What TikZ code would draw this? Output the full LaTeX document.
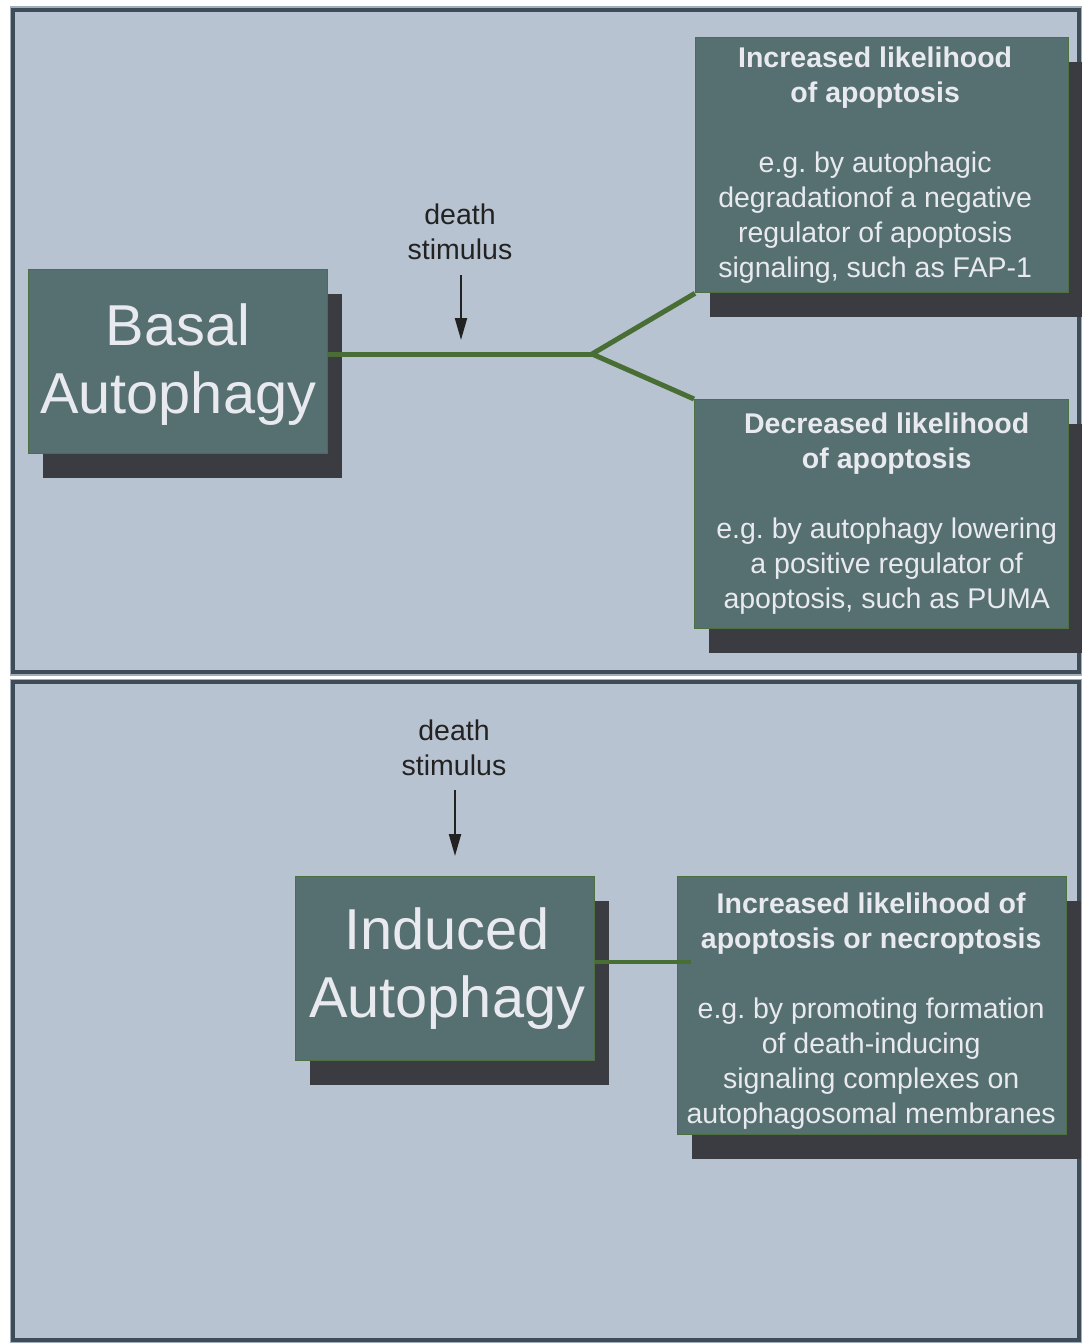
\documentclass[tikz,border=0pt]{standalone}
\usepackage{fontspec}
\setmainfont{Liberation Sans}
\usetikzlibrary{arrows.meta,shadows}
\definecolor{panelfill}{HTML}{B8C3D1}
\definecolor{panelline}{HTML}{3E4C58}
\definecolor{panelhalo}{HTML}{A3AEBC}
\definecolor{boxfill}{HTML}{566F70}
\definecolor{boxline}{HTML}{4D7040}
\definecolor{shadowc}{HTML}{3B3B42}
\definecolor{linkc}{HTML}{486E36}
\definecolor{boxtext}{HTML}{E8EAF0}
\definecolor{stimtext}{HTML}{222222}
\frenchspacing
\begin{document}
\begin{tikzpicture}[x=1pt,y=-1pt,
  panel/.style={fill=panelfill,draw=panelline,line width=3.5pt},
  halo/.style={draw=panelhalo,line width=7pt},
  box/.style={fill=boxfill,draw=boxline,line width=1.3pt,inner sep=0pt,anchor=north west,
    drop shadow={shadow xshift=14pt,shadow yshift=-24pt,opacity=1,fill=shadowc}},
  boxlabel/.style={align=center,text=boxtext,inner sep=0pt},
  small/.style={font=\fontsize{28.5}{35}\selectfont},
  big/.style={font=\fontsize{57.7}{68}\selectfont},
  link/.style={draw=linkc,line width=5pt},
  stim/.style={align=center,text=stimtext,font=\fontsize{28.5}{35}\selectfont},
  stimarrow/.style={draw=stimtext,line width=2.2pt,-{Triangle[length=22pt,width=12pt]}}]
\useasboundingbox[fill=white] (0,0) rectangle (1081,1343);
% panels
\draw[halo] (13,10) rectangle (1079,672);
\draw[halo] (13,682) rectangle (1079,1340);
\draw[panel] (13,10) rectangle (1079,672);
\draw[panel] (13,682) rectangle (1079,1340);
% top panel
\coordinate (split) at (592,354);
\node[box,minimum width=299pt,minimum height=184pt] (basal) at (28,269) {};
\node[boxlabel,big] (basaltext) at ([yshift=-3pt]basal.center) {Basal\\Autophagy};
\draw[link] (basal.east |- split) -- (split);
\node[box,minimum width=373pt,minimum height=255pt] (inc) at (695,37) {};
\node[boxlabel,small] (inctext) at ([xshift=-7pt]inc.center)
  {\bfseries Increased likelihood\\\bfseries of apoptosis\\[35pt]e.g. by autophagic\\degradationof a negative\\regulator of apoptosis\\signaling, such as FAP-1};
\node[box,minimum width=374pt,minimum height=229pt] (dec) at (694,399) {};
\node[boxlabel,small] (dectext) at ([xshift=5pt,yshift=1pt]dec.center)
  {\bfseries Decreased likelihood\\\bfseries of apoptosis\\[35pt]e.g. by autophagy lowering\\a positive regulator of\\apoptosis, such as PUMA};
\draw[link,line join=miter] (inc.south west) -- (split) -- (dec.north west);
\node[stim] (stim1) at (460,232) {death\\stimulus};
\coordinate (a1s) at (461,275);
\coordinate (a1e) at (461,340);
\draw[stimarrow] (a1s) -- (a1e);
% bottom panel
\node[box,minimum width=299pt,minimum height=184pt] (ind) at (295,876) {};
\node[boxlabel,big] (indtext) at ([xshift=2pt]ind.center) {Induced\\Autophagy};
\node[box,minimum width=389pt,minimum height=258pt] (nec) at (677,876) {};
\node[boxlabel,small] (nectext) at ([xshift=-1pt,yshift=-5pt]nec.center)
  {\bfseries Increased likelihood of\\\bfseries apoptosis or necroptosis\\[35pt]e.g. by promoting formation\\of death-inducing\\signaling complexes on\\autophagosomal membranes};
\coordinate (l2e) at (691,962);
\draw[link,line width=4pt] (ind.east |- l2e) -- (l2e);
\node[stim] (stim2) at (454,748) {death\\stimulus};
\coordinate (a2s) at (455,790);
\coordinate (a2e) at (455,856);
\draw[stimarrow] (a2s) -- (a2e);
\end{tikzpicture}
\end{document}
